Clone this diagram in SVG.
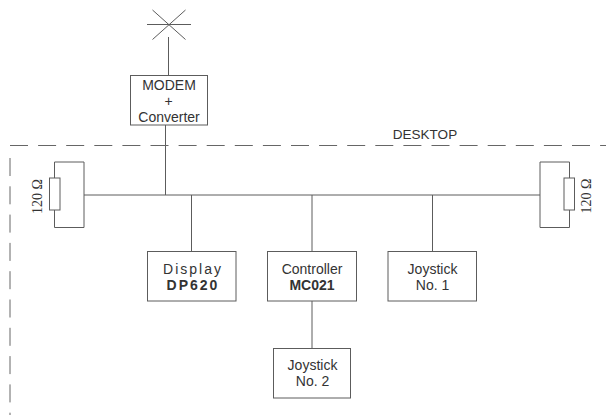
<svg xmlns="http://www.w3.org/2000/svg" width="606" height="415" viewBox="0 0 606 415">
<style>
.l{fill:none;stroke:#5c5c5c;stroke-width:1}
.b{fill:#fff;stroke:#5c5c5c;stroke-width:1}
text{font-family:"Liberation Sans",Arial,sans-serif;font-size:14px;fill:#333;text-anchor:middle}
.s{font-family:"Liberation Serif","Times New Roman",serif;font-size:14px}
</style>
<rect width="606" height="415" fill="#fff"/>
<g id="connectors" class="l">
<path d="M168.500 37V75M165.500 125V195M84 195H540M191.500 195V251.500M312 195V251.500M432.500 195V251.500M312 301V348.500"/>
</g>
<g id="antenna" class="l">
<path d="M147 24.500H191M152.500 10L185.500 39.500M185.500 10L152.500 39.500"/>
</g>
<g id="desktop">
<path d="M10 145.500H606" fill="none" stroke="#666" stroke-dasharray="18 10.100"/>
<path d="M10 158V415" fill="none" stroke="#666" stroke-dasharray="18 10.300"/>
<text x="425" y="139" style="font-size:13.500px">DESKTOP</text>
</g>
<g id="modem">
<rect class="b" x="130.500" y="75.500" width="77" height="49.500"/>
<text x="169" y="90">MODEM</text><text x="168.500" y="106">+</text><text x="169" y="122">Converter</text>
</g>
<g id="res-left">
<path class="l" d="M54.500 178V162H84V227.500H54.500V210"/>
<rect class="b" x="49.500" y="178" width="10.500" height="32"/>
<text class="s" transform="translate(41.500,196.500) rotate(-90)">120 Ω</text>
</g>
<g id="res-right">
<path class="l" d="M569.500 178V162H540V227.500H569.500V210"/>
<rect class="b" x="564" y="178" width="10.500" height="32"/>
<text class="s" transform="translate(591,196) rotate(-90)">120 Ω</text>
</g>
<g id="display">
<rect class="b" x="147.500" y="251.500" width="88.500" height="49.500"/>
<text x="193" y="274" style="letter-spacing:2px">Display</text>
<text x="193" y="290" style="font-weight:bold;letter-spacing:2px">DP620</text>
</g>
<g id="controller">
<rect class="b" x="267.500" y="251.500" width="89" height="49.500"/>
<text x="312" y="274">Controller</text>
<text x="312" y="290" style="font-weight:bold">MC021</text>
</g>
<g id="joystick1">
<rect class="b" x="388" y="251.500" width="88.500" height="49.500"/>
<text x="432.500" y="274">Joystick</text><text x="432.500" y="290">No. 1</text>
</g>
<g id="joystick2">
<rect class="b" x="273.500" y="348.500" width="77" height="49.500"/>
<text x="312.500" y="370">Joystick</text><text x="312.500" y="386">No. 2</text>
</g>
</svg>
